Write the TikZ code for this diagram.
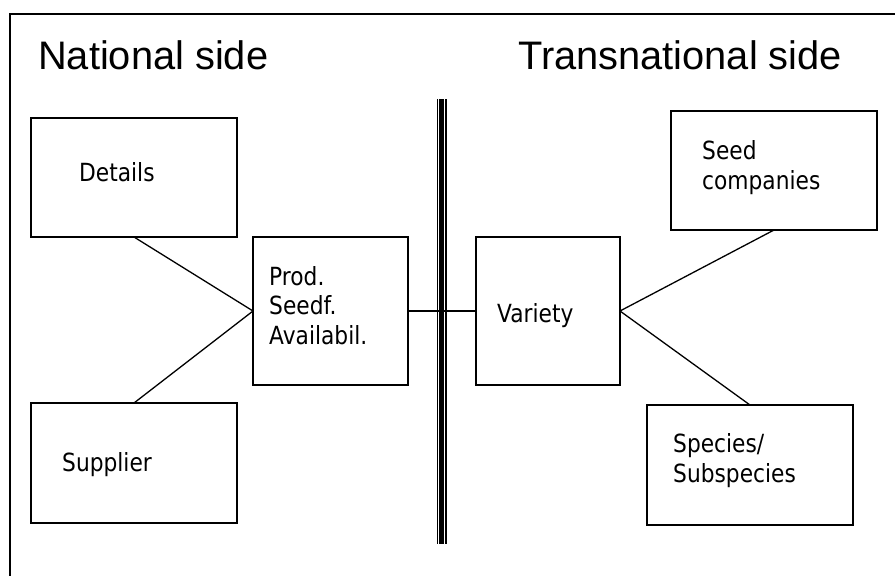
\documentclass[tikz,border=0pt]{standalone}
\usepackage{fontspec}
\setmainfont{Liberation Sans}
\newfontfamily\labfont[FakeStretch=0.87]{DejaVu Sans}
\tikzset{
  box/.style={draw=black, line width=1.5pt, inner sep=0pt, outer sep=0pt, rectangle},
  lab/.style={anchor=base west, inner sep=0pt, font=\labfont\fontsize{25}{29.5}\selectfont, align=left},
  ttl/.style={anchor=base west, inner sep=0pt, font=\fontsize{39.8}{44}\selectfont},
  link/.style={line width=1.3pt, black},
}
\begin{document}
\begin{tikzpicture}[x=1pt,y=-1pt]
\useasboundingbox (0,0) rectangle (895,576);
% outer frame (partly cropped)
\draw[line width=1.3pt] (10,576) -- (10,14) -- (895,14);
% titles
\node[ttl] (tnat) at (38,69) {National side};
\node[ttl] (ttrans) at (518,69) {Transnational side};
% boxes
\node[box, minimum width=206pt, minimum height=119pt] (details) at (134,177.5) {};
\node[box, minimum width=206pt, minimum height=120pt] (supplier) at (134,463) {};
\node[box, minimum width=155pt, minimum height=148pt] (prod) at (330.5,311) {};
\node[box, minimum width=144pt, minimum height=148pt] (variety) at (548,311) {};
\node[box, minimum width=206pt, minimum height=119pt] (seed) at (774,170.5) {};
\node[box, minimum width=206pt, minimum height=120pt] (species) at (750,465) {};
% labels (base anchor = baseline of last line)
\node[lab] (ldetails) at (79,181) {Details};
\node[lab] (lsupplier) at (62,471) {Supplier};
\node[lab] (lprod) at (269,344) {Prod.\\Seedf.\\Availabil.};
\node[lab] (lvariety) at (497,322) {Variety};
\node[lab] (lseed) at (702,189) {Seed\\companies};
\node[lab] (lspecies) at (673,482) {Species/\\Subspecies};
% border between the sides (triple line)
\draw[line width=1.2pt] (437.5,99) -- (437.5,544);
\draw[line width=5pt] (441.5,99) -- (441.5,544);
\draw[line width=1.2pt] (446,99) -- (446,544);
% connectors
\draw[link] (details.south) -- (prod.west);
\draw[link] (supplier.north) -- (prod.west);
\draw[link] (prod.east) -- (variety.west);
\draw[link] (variety.east) -- (seed.south);
\draw[link] (variety.east) -- (species.north);
\end{tikzpicture}
\end{document}
